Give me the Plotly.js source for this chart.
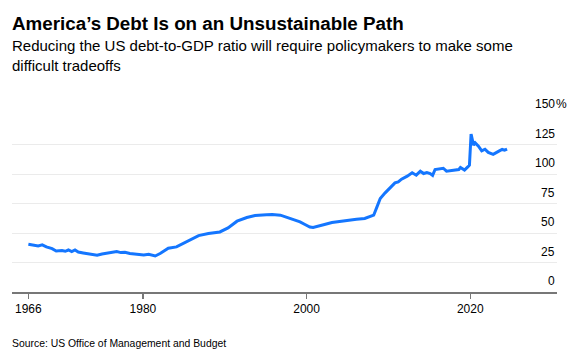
<!DOCTYPE html>
<html>
<head>
<meta charset="utf-8">
<script src="https://cdn.plot.ly/plotly-3.0.1.min.js"></script>
<style>html,body{margin:0;padding:0;background:#fff;}#chart{width:585px;height:361px;}</style>
</head>
<body>
<div id="chart"></div>
<script>
const years = [1966.0, 1966.6, 1967.2, 1967.7, 1968.2, 1968.9, 1969.4, 1970.1, 1970.5, 1970.9, 1971.3, 1971.7, 1972.1, 1972.7, 1973.3, 1973.9, 1974.4, 1975.0, 1975.6, 1976.2, 1976.8, 1977.3, 1977.8, 1978.4, 1979.3, 1980.1, 1980.7, 1981.5, 1982.1, 1983.1, 1984.1, 1985.1, 1985.9, 1986.8, 1988.0, 1989.4, 1990.4, 1991.5, 1992.7, 1993.7, 1995.1, 1995.8, 1996.8, 1997.6, 1998.4, 1999.2, 1999.8, 2000.4, 2000.8, 2001.5, 2002.3, 2003.1, 2004.1, 2005.1, 2006.1, 2007.1, 2007.7, 2008.2, 2008.6, 2009.0, 2009.6, 2010.2, 2010.8, 2011.2, 2011.6, 2012.3, 2012.9, 2013.4, 2013.9, 2014.3, 2014.7, 2015.1, 2015.4, 2015.7, 2016.3, 2016.7, 2017.1, 2017.7, 2018.1, 2018.6, 2018.8, 2019.3, 2019.7, 2019.9, 2020.1, 2020.4, 2020.6, 2021.0, 2021.4, 2021.8, 2022.2, 2022.8, 2023.5, 2023.9, 2024.2, 2024.5];
const debtToGdp = [40.5, 39.9, 39.0, 39.9, 38.2, 36.8, 34.8, 35.1, 34.5, 35.6, 34.3, 35.6, 33.9, 33.1, 32.6, 31.7, 31.1, 32.2, 33.1, 33.7, 34.3, 33.4, 33.7, 32.6, 31.7, 31.4, 32.0, 30.5, 32.6, 37.1, 38.2, 41.6, 44.4, 47.8, 49.5, 50.9, 54.3, 60.0, 63.1, 64.8, 65.4, 65.6, 65.1, 63.1, 61.4, 59.4, 57.2, 55.1, 54.6, 55.7, 57.4, 58.9, 60.0, 60.8, 61.7, 62.3, 63.6, 65.1, 72.1, 79.2, 84.0, 88.2, 92.5, 93.3, 95.6, 98.2, 101.0, 99.0, 102.4, 100.4, 101.3, 100.4, 98.8, 103.8, 104.4, 104.9, 102.4, 102.7, 103.5, 103.8, 105.5, 103.3, 106.0, 107.5, 133.8, 124.5, 126.4, 123.6, 119.6, 121.0, 118.3, 116.6, 119.4, 120.8, 120.2, 121.1];
const xTickVals = [1966, 1980, 2000, 2020];
const xTickText = ['1966', '1980', '2000', '2020'];
const yTickVals = [0, 25, 50, 75, 100, 125, 150];
const yTickText = ['0', '25', '50', '75', '100', '125', '150'];
const titleText = 'America\u2019s Debt Is on an Unsustainable Path';
const subtitleText = 'Reducing the US debt-to-GDP ratio will require policymakers to make some<br>difficult tradeoffs';
const sourceText = 'Source: US Office of Management and Budget';

const FONT = 'Liberation Sans, Arial, sans-serif';
const annotations = [];
yTickVals.forEach((v, i) => {
  annotations.push({xref: 'paper', yref: 'y', x: 1, y: v, xanchor: 'right', yanchor: 'bottom', yshift: 2,
    text: yTickText[i], showarrow: false, font: {family: FONT, size: 12, color: '#000'}});
});
annotations.push({xref: 'paper', yref: 'y', x: 1, y: yTickVals[yTickVals.length - 1], xanchor: 'left', yanchor: 'bottom', yshift: 2, xshift: -3,
  text: '%', showarrow: false, font: {family: FONT, size: 12, color: '#000'}});
annotations.push({xref: 'paper', yref: 'paper', x: -0.004, y: 1.515, xanchor: 'left', yanchor: 'middle',
  text: '<b>' + titleText + '</b>', showarrow: false, font: {family: FONT, size: 18.8, color: '#000'}});
annotations.push({xref: 'paper', yref: 'paper', x: -0.004, y: 1.335, xanchor: 'left', yanchor: 'middle', align: 'left',
  text: subtitleText, showarrow: false, font: {family: FONT, size: 15, color: '#000'}});
annotations.push({xref: 'paper', yref: 'paper', x: -0.004, y: -0.293, xanchor: 'left', yanchor: 'middle',
  text: sourceText, showarrow: false, font: {family: FONT, size: 10.4, color: '#000'}});

Plotly.newPlot('chart', [{
  x: years, y: debtToGdp, type: 'scatter', mode: 'lines',
  line: {color: '#1476ff', width: 3}, hoverinfo: 'skip'
}], {
  width: 585, height: 361,
  margin: {l: 12, r: 28, t: 115, b: 69},
  paper_bgcolor: '#fff', plot_bgcolor: '#fff',
  showlegend: false,
  xaxis: {range: [1964.0, 2030.6], tickvals: xTickVals, ticktext: xTickText, showgrid: false, zeroline: false,
    showline: true, linecolor: '#777', linewidth: 1.5, ticks: 'outside', ticklen: 5, tickwidth: 1.5, tickcolor: '#777',
    tickfont: {family: FONT, size: 12, color: '#000'}, fixedrange: true},
  yaxis: {range: [0, 150], tickvals: yTickVals, showticklabels: false, showgrid: true, gridcolor: '#ebebeb', gridwidth: 1,
    zeroline: false, fixedrange: true},
  annotations: annotations
}, {displayModeBar: false, staticPlot: true});
</script>
</body>
</html>
